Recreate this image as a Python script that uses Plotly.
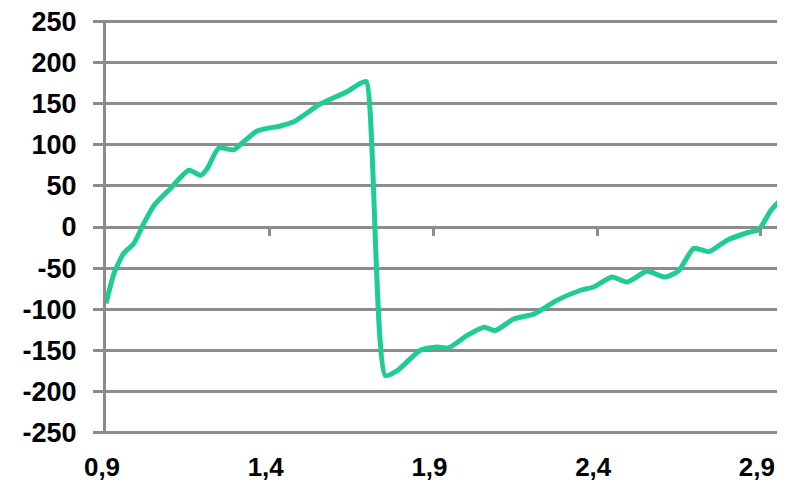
import plotly.graph_objects as go

x_vals = [0.9, 0.924, 0.954, 0.985, 1.015, 1.046, 1.097, 1.153, 1.189, 1.209, 1.244, 1.29, 1.321,
          1.362, 1.433, 1.473, 1.555, 1.637, 1.677, 1.695, 1.753, 1.789, 1.86, 1.911, 1.947, 2.003,
          2.054, 2.089, 2.145, 2.206, 2.278, 2.349, 2.389, 2.445, 2.491, 2.552, 2.608, 2.649, 2.695,
          2.741, 2.797, 2.858, 2.894, 2.93, 2.97]
y_vals = [-93, -57, -32, -20, 4, 26, 47, 69, 63, 71, 96, 94, 104,
          117, 123, 128, 150, 165, 175, 177, -181, -175, -150, -146, -147, -132,
          -122, -126, -112, -106, -89, -77, -73, -61, -67, -54, -61, -53, -26,
          -30, -16, -7, -3, 20, 37]

x_tick_vals = [0.9, 1.4, 1.9, 2.4, 2.9]
x_tick_text = ["0,9", "1,4", "1,9", "2,4", "2,9"]
y_tick_vals = [250, 200, 150, 100, 50, 0, -50, -100, -150, -200, -250]
y_tick_text = ["250", "200", "150", "100", "50", "0", "-50", "-100", "-150", "-200", "-250"]

GRID = "#8C8C8C"
FONT = dict(family="Liberation Sans", size=27, color="#000000", weight="bold")
XFONT = dict(family="Liberation Sans", size=26, color="#000000", weight="bold")
XR = [0.9, 2.949]
YR = [-252, 252]

fig = go.Figure()
fig.add_trace(go.Scatter(x=x_vals, y=y_vals, mode="lines",
                         line=dict(color="#1FCC96", width=5, shape="spline", smoothing=0.6),
                         hoverinfo="skip", showlegend=False))
# helper trace so the tick-mark axis at y=0 is drawn
fig.add_trace(go.Scatter(x=[x_vals[0]], y=[y_vals[0]], xaxis="x2", mode="markers",
                         marker=dict(opacity=0), hoverinfo="skip", showlegend=False))

# page body has an 8px default margin, so the figure is sized/offset to compensate
fig.update_layout(
    width=769, height=476,
    margin=dict(l=98, r=0, t=12, b=50),
    paper_bgcolor="white", plot_bgcolor="white",
    xaxis=dict(range=XR, tickvals=x_tick_vals, ticktext=x_tick_text, showgrid=False,
               zeroline=False, showline=False, ticks="outside", ticklen=10,
               tickcolor="rgba(0,0,0,0)", tickfont=XFONT, automargin=False,
               ticklabeloverflow="allow", ticklabelshift=-4),
    xaxis2=dict(range=XR, overlaying="x", anchor="free", position=0.5, side="bottom",
                tickvals=[1.4, 1.9, 2.4, 2.9], showticklabels=False, ticks="outside",
                ticklen=8, tickwidth=3, tickcolor=GRID, showgrid=False, zeroline=False,
                showline=False, automargin=False),
    yaxis=dict(range=YR, tickvals=y_tick_vals, ticktext=y_tick_text,
               showgrid=True, gridcolor=GRID, gridwidth=3, zeroline=False,
               showline=True, linecolor=GRID, linewidth=3,
               ticks="outside", ticklen=10, tickwidth=3, tickcolor=GRID,
               tickfont=FONT, ticklabelstandoff=11, automargin=False,
               ticklabeloverflow="allow"),
)

fig.write_html("out.html")
